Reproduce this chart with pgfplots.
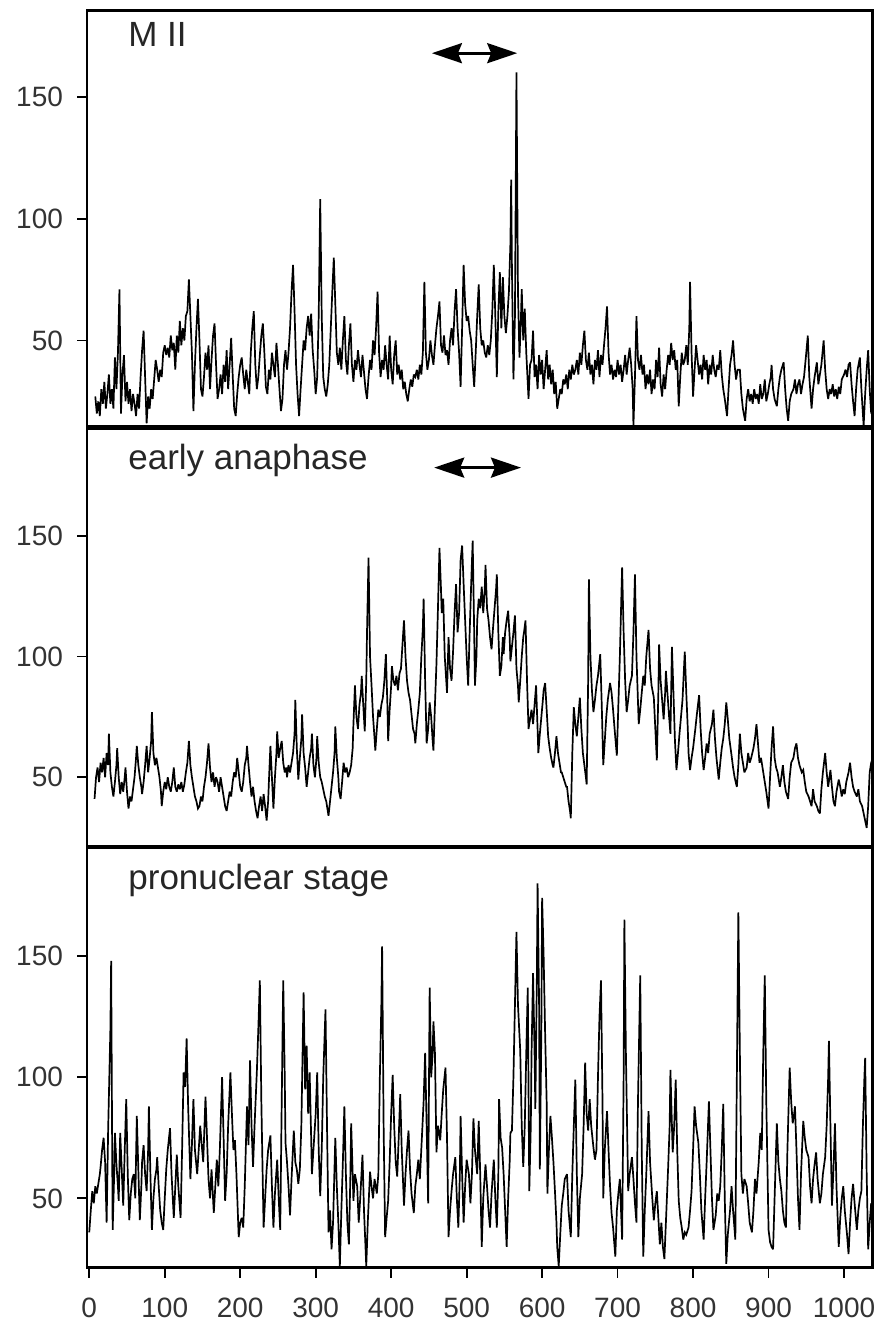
\documentclass[border=0pt]{standalone}
\usepackage{fontspec}
\setmainfont{Liberation Sans}
\usepackage{pgfplots}
\pgfplotsset{compat=1.18}
\usetikzlibrary{arrows.meta}
\pgfplotsset{
 panel/.style={width=392.85pt, scale only axis, xmin=-3, xmax=1038,
  ytick={50,100,150}, tick align=outside, ytick pos=left, xtick pos=bottom,
  axis line style={line width=1.4pt},
  major tick style={line width=0.9pt, black}, major tick length=5pt,
  tick label style={font=\fontsize{14}{14}\selectfont, text=black!80},
  yticklabel style={xshift=-3.5pt},
  xticklabel style={yshift=-6.5pt},
  /pgf/number format/assume math mode=true, /pgf/number format/1000 sep={}},
 dataline/.style={black, line width=0.85pt, mark=none, line join=miter, miter limit=3}
}
\tikzset{
 plabel/.style={anchor=base west, inner sep=0pt, font=\fontsize{17.5}{17.5}\selectfont, text=black!85},
 darr/.style={line width=1.5pt, {Stealth[length=15pt,width=10pt,inset=2pt]}-{Stealth[length=15pt,width=10pt,inset=2pt]}}
}
\begin{document}
\begin{tikzpicture}
\useasboundingbox (-43.5pt,-27.65pt) rectangle (396pt,633.85pt);
% ---------- top panel: M II ----------
\begin{axis}[panel, at={(0pt,420.5pt)}, anchor=south west, height=208.2pt, ymin=14.6, ymax=185.5, xtick=\empty]
\addplot[dataline] coordinates {(8,27)(10,20)(12,25)(14,19)(16,30)(18,24)(20,33)(22,22)(24,28)(26,36)(28,24)(30,30)(32,22)(34,43)(36,30)(38,45)(40,71)(42,20)(44,36)(46,44)(48,25)(50,33)(52,24)(54,30)(56,21)(58,28)(60,24)(62,19)(64,28)(66,22)(68,35)(70,46)(72,54)(74,35)(76,16)(78,27)(80,22)(82,30)(84,26)(86,34)(88,42)(90,38)(92,33)(94,38)(96,35)(98,45)(100,48)(102,44)(104,47)(106,43)(108,52)(110,46)(112,49)(114,38)(116,52)(118,45)(120,58)(122,48)(124,55)(126,50)(128,60)(130,62)(132,75)(134,60)(136,45)(138,21)(140,40)(142,55)(144,67)(146,50)(148,30)(150,27)(152,35)(154,45)(156,38)(158,48)(160,30)(162,42)(164,52)(166,57)(168,40)(170,26)(172,30)(174,36)(176,28)(178,40)(180,33)(182,46)(184,30)(186,40)(188,51)(190,36)(192,22)(194,19)(196,28)(198,35)(200,40)(202,43)(204,36)(206,30)(208,38)(210,33)(212,28)(214,45)(216,55)(218,62)(220,40)(222,30)(224,35)(226,44)(228,52)(230,57)(232,45)(234,31)(236,28)(238,38)(240,34)(242,45)(244,40)(246,35)(248,49)(250,40)(252,30)(254,21)(256,26)(258,40)(260,46)(262,38)(264,45)(266,55)(268,70)(270,81)(272,62)(274,40)(276,28)(278,19)(280,30)(282,40)(284,50)(286,46)(288,55)(290,60)(292,52)(294,61)(296,46)(298,38)(300,28)(302,35)(304,60)(306,108)(308,60)(310,35)(312,30)(314,27)(316,32)(318,40)(320,55)(322,70)(324,84)(326,65)(328,45)(330,40)(332,47)(334,38)(336,50)(338,60)(340,42)(342,36)(344,48)(346,57)(348,40)(350,33)(352,42)(354,38)(356,46)(358,40)(360,35)(362,44)(364,37)(366,30)(368,26)(370,35)(372,42)(374,38)(376,50)(378,44)(380,55)(382,70)(384,45)(386,35)(388,42)(390,38)(392,48)(394,40)(396,34)(398,52)(400,38)(402,32)(404,44)(406,50)(408,36)(410,40)(412,34)(414,38)(416,30)(418,33)(420,28)(422,25)(424,30)(426,34)(428,31)(430,36)(432,35)(434,38)(436,34)(438,40)(440,36)(442,45)(444,74)(446,45)(448,38)(450,42)(452,50)(454,44)(456,40)(458,48)(460,55)(462,60)(464,66)(466,48)(468,45)(470,52)(472,44)(474,46)(476,40)(478,50)(480,55)(482,48)(484,62)(486,71)(488,55)(490,45)(492,31)(494,55)(496,81)(498,65)(500,58)(502,60)(504,54)(506,50)(508,40)(510,31)(512,45)(514,60)(516,73)(518,55)(520,48)(522,50)(524,45)(526,43)(528,48)(530,44)(532,50)(534,62)(536,81)(538,60)(540,35)(542,62)(544,78)(546,55)(548,76)(550,60)(552,53)(554,60)(556,70)(558,90)(559,116)(560,80)(562,34)(564,60)(566,160)(568,70)(570,43)(572,60)(573,71)(575,50)(577,63)(579,45)(582,26)(584,40)(586,42)(588,54)(590,35)(592,40)(594,30)(596,44)(598,36)(600,42)(602,30)(604,38)(606,46)(608,34)(610,40)(612,32)(614,38)(616,28)(618,33)(620,22)(622,26)(624,30)(626,28)(628,34)(630,32)(632,36)(634,30)(636,38)(638,34)(640,40)(642,36)(644,38)(646,42)(648,36)(650,45)(652,40)(654,48)(656,54)(658,42)(660,38)(662,45)(664,36)(666,40)(668,32)(670,42)(672,38)(674,46)(676,35)(678,44)(680,40)(682,48)(684,55)(686,64)(688,45)(690,36)(692,40)(694,34)(696,38)(698,35)(700,42)(702,36)(704,40)(706,33)(708,38)(710,44)(712,36)(714,42)(716,47)(718,40)(720,30)(721,15)(723,35)(725,60)(727,42)(729,38)(731,44)(733,36)(735,40)(737,30)(739,36)(741,32)(743,38)(745,28)(747,34)(749,30)(751,42)(753,35)(755,47)(757,32)(759,27)(761,36)(763,30)(765,38)(767,44)(769,40)(771,49)(773,42)(775,46)(777,38)(779,42)(781,23)(783,35)(785,45)(787,40)(789,42)(791,48)(793,40)(795,55)(796,74)(798,45)(800,27)(802,38)(804,48)(806,42)(808,36)(810,40)(812,34)(814,44)(816,38)(818,42)(820,32)(822,40)(824,36)(826,44)(828,38)(830,35)(832,40)(834,38)(836,46)(838,36)(840,30)(842,26)(845,19)(847,30)(849,40)(851,44)(853,50)(855,40)(857,34)(859,38)(862,38)(864,28)(866,22)(869,17)(871,26)(873,30)(875,25)(877,28)(879,24)(881,30)(883,26)(885,28)(887,24)(889,32)(891,26)(893,28)(895,34)(897,25)(899,28)(901,32)(903,35)(904,40)(906,30)(908,26)(911,23)(913,30)(915,35)(917,38)(920,41)(922,30)(924,22)(926,17)(928,25)(930,28)(933,30)(935,34)(937,28)(939,32)(941,34)(943,28)(945,32)(947,35)(950,45)(952,52)(954,35)(957,22)(959,30)(961,35)(964,41)(966,32)(968,36)(970,40)(973,50)(975,38)(977,30)(979,26)(981,30)(983,28)(985,32)(987,27)(989,30)(991,26)(993,31)(995,28)(997,34)(1000,36)(1002,38)(1004,35)(1006,40)(1008,41)(1010,32)(1012,25)(1014,19)(1016,30)(1018,38)(1021,43)(1023,30)(1026,15)(1028,28)(1030,38)(1032,46)(1034,30)(1036,20)(1038,26)};
\node[plabel] at ([xshift=20.5pt,yshift=-18.2pt]rel axis cs:0,1) {M II};
\draw[darr] (axis cs:454,167.9) -- (axis cs:567,167.9);
\end{axis}
% ---------- middle panel: early anaphase ----------
\begin{axis}[panel, at={(0pt,210.5pt)}, anchor=south west, height=209.2pt, ymin=21.2, ymax=194.6, xtick=\empty]
\addplot[dataline] coordinates {(7,41)(9,50)(11,54)(13,48)(15,56)(17,52)(19,58)(21,50)(23,60)(25,55)(26,68)(28,52)(30,46)(32,42)(34,48)(36,55)(37,62)(39,50)(41,43)(43,48)(45,44)(47,50)(48,54)(50,44)(52,37)(54,42)(56,40)(58,45)(60,50)(62,58)(63,63)(65,55)(67,50)(69,46)(70,43)(72,48)(74,55)(76,63)(78,52)(80,58)(82,65)(83,77)(85,60)(87,55)(89,58)(91,54)(93,50)(95,44)(96,38)(98,44)(100,48)(102,45)(104,50)(106,46)(108,44)(110,48)(112,54)(114,46)(116,44)(118,47)(120,45)(122,48)(124,44)(126,47)(128,52)(130,56)(132,65)(134,55)(136,50)(138,46)(140,42)(142,40)(144,37)(146,38)(148,42)(150,40)(152,46)(154,50)(156,56)(158,64)(160,54)(162,48)(164,52)(166,46)(168,50)(170,48)(172,44)(174,50)(176,46)(178,42)(180,38)(182,36)(184,40)(186,44)(188,42)(190,48)(192,52)(194,50)(196,58)(198,52)(200,46)(202,44)(204,48)(206,55)(208,58)(209,63)(211,55)(213,48)(215,42)(217,46)(219,40)(221,36)(223,33)(225,38)(227,42)(229,36)(231,43)(233,38)(235,32)(237,40)(238,48)(240,63)(242,50)(244,37)(246,50)(248,60)(249,69)(251,58)(253,62)(255,65)(257,56)(259,52)(261,54)(262,50)(264,55)(266,52)(268,56)(270,60)(272,68)(273,82)(275,62)(277,49)(279,58)(281,66)(282,76)(284,60)(286,54)(288,46)(290,52)(292,58)(294,62)(295,68)(297,55)(299,50)(301,58)(302,67)(304,56)(306,50)(308,48)(310,45)(312,42)(314,40)(316,36)(317,34)(319,40)(321,46)(323,52)(325,60)(326,71)(328,58)(330,50)(331,44)(333,41)(335,48)(337,56)(339,52)(341,54)(343,50)(345,52)(347,55)(349,62)(350,72)(352,88)(354,75)(356,70)(358,80)(360,85)(361,92)(363,80)(365,69)(367,90)(368,110)(370,141)(372,100)(374,88)(376,75)(378,66)(379,61)(381,70)(383,78)(385,75)(387,80)(389,83)(391,90)(393,101)(395,80)(396,65)(398,78)(400,88)(401,96)(403,90)(405,88)(407,92)(409,86)(411,93)(413,95)(415,105)(417,115)(419,100)(421,90)(423,85)(425,82)(427,76)(429,70)(431,68)(432,64)(434,72)(436,78)(438,85)(440,100)(442,112)(443,124)(445,90)(447,64)(449,70)(451,81)(453,75)(455,65)(456,61)(458,80)(460,97)(462,120)(464,145)(466,128)(467,118)(469,124)(471,100)(473,90)(474,85)(476,108)(478,95)(480,90)(482,102)(484,118)(486,130)(488,110)(490,118)(492,140)(494,146)(496,130)(498,115)(500,100)(502,88)(504,110)(506,130)(508,148)(510,110)(511,88)(513,100)(514,115)(516,124)(518,120)(520,129)(522,118)(524,128)(525,138)(527,120)(529,115)(531,108)(533,103)(535,112)(537,120)(539,128)(540,134)(542,110)(544,92)(546,96)(548,108)(549,101)(551,110)(553,115)(555,119)(557,108)(558,98)(560,104)(562,110)(564,117)(566,95)(568,88)(569,81)(571,90)(573,100)(575,108)(576,110)(578,115)(580,90)(582,70)(584,74)(586,78)(588,72)(590,80)(592,88)(594,70)(595,60)(597,68)(599,75)(601,82)(602,86)(604,89)(606,78)(608,67)(610,62)(612,58)(614,55)(615,54)(617,60)(619,67)(621,60)(623,56)(625,52)(626,52)(628,50)(630,48)(632,46)(633,46)(635,40)(637,36)(638,33)(640,60)(642,79)(644,72)(646,67)(648,75)(650,83)(652,70)(654,60)(656,55)(658,50)(659,47)(661,90)(662,132)(664,100)(666,86)(668,77)(670,82)(672,88)(674,92)(677,101)(679,80)(681,55)(683,65)(685,75)(687,82)(690,89)(692,85)(694,78)(696,70)(699,59)(701,80)(703,100)(705,125)(706,137)(708,110)(710,90)(712,77)(714,82)(716,88)(719,92)(721,110)(723,134)(725,100)(728,72)(730,78)(732,85)(734,92)(736,88)(738,100)(741,111)(743,95)(745,88)(748,83)(750,70)(752,57)(754,85)(755,105)(757,90)(759,82)(761,74)(763,85)(764,94)(766,85)(768,76)(770,68)(772,104)(774,85)(776,65)(778,53)(780,60)(782,68)(784,75)(786,82)(789,102)(791,85)(793,70)(794,60)(796,53)(798,58)(800,62)(803,70)(805,76)(808,84)(810,70)(812,60)(814,53)(816,58)(818,64)(820,60)(822,68)(825,72)(827,78)(829,66)(831,58)(834,49)(836,56)(838,62)(840,66)(842,72)(844,81)(846,74)(848,66)(851,59)(853,54)(855,50)(858,46)(860,55)(862,68)(864,60)(866,56)(868,52)(871,54)(873,60)(875,56)(877,58)(880,62)(882,66)(884,72)(886,64)(888,56)(890,58)(893,52)(895,48)(897,44)(900,37)(902,50)(904,62)(906,71)(908,58)(910,54)(912,52)(915,46)(917,50)(919,55)(921,48)(923,44)(926,41)(928,50)(930,56)(933,58)(935,62)(937,64)(939,58)(941,55)(944,52)(946,53)(948,48)(950,44)(953,42)(955,40)(957,38)(959,45)(961,40)(964,38)(966,36)(968,35)(970,45)(972,52)(975,60)(977,52)(979,46)(982,53)(984,46)(986,40)(988,38)(990,44)(993,49)(995,46)(997,42)(999,45)(1001,43)(1003,48)(1006,52)(1008,56)(1010,50)(1012,46)(1014,44)(1017,42)(1019,45)(1021,40)(1024,38)(1026,35)(1028,32)(1030,29)(1032,38)(1034,52)(1036,56)(1038,58)};
\node[plabel] at ([xshift=20.5pt,yshift=-20.5pt]rel axis cs:0,1) {early anaphase};
\draw[darr] (axis cs:457,178.3) -- (axis cs:572,178.3);
\end{axis}
% ---------- bottom panel: pronuclear stage ----------
\begin{axis}[panel, at={(0pt,0pt)}, anchor=south west, height=210.2pt, ymin=21.4, ymax=194.9, xtick={0,100,...,1000}]
\addplot[dataline] coordinates {(0,36)(2,45)(4,53)(6,48)(8,55)(10,52)(12,56)(14,60)(15,63)(17,70)(19,75)(21,65)(23,40)(25,78)(26,92)(28,120)(29,148)(30,90)(31,37)(33,60)(34,77)(36,64)(38,55)(39,49)(41,77)(43,62)(45,47)(47,70)(49,91)(51,60)(53,41)(55,52)(57,58)(59,60)(61,50)(63,84)(65,62)(67,41)(69,55)(70,65)(72,72)(74,60)(76,53)(78,70)(79,88)(81,60)(83,37)(85,50)(87,58)(89,62)(90,67)(92,55)(94,45)(96,40)(98,37)(100,50)(102,62)(104,70)(107,79)(109,60)(112,42)(114,55)(116,68)(118,55)(121,42)(123,70)(125,102)(127,96)(129,116)(131,88)(134,58)(136,72)(138,91)(140,70)(143,60)(145,70)(147,80)(149,72)(151,65)(154,92)(156,75)(158,58)(160,50)(162,62)(165,44)(167,55)(169,66)(171,55)(173,70)(176,100)(178,75)(180,49)(182,60)(184,80)(187,102)(189,85)(191,70)(193,74)(195,60)(198,34)(200,40)(202,42)(204,38)(206,55)(209,88)(211,72)(213,107)(215,80)(217,63)(219,80)(222,102)(224,120)(226,140)(228,90)(230,55)(231,38)(233,50)(235,62)(237,70)(240,76)(242,55)(244,38)(246,52)(249,66)(251,50)(253,37)(255,90)(257,140)(259,100)(260,73)(262,65)(264,55)(266,43)(268,58)(271,78)(273,65)(275,62)(277,56)(279,62)(281,80)(284,135)(286,95)(288,113)(290,85)(292,102)(294,75)(295,60)(297,70)(300,85)(302,102)(304,70)(306,51)(308,70)(310,100)(313,128)(315,80)(317,36)(319,45)(321,29)(323,40)(326,75)(328,55)(330,40)(332,22)(334,45)(336,65)(338,88)(340,60)(342,40)(344,31)(346,60)(347,81)(349,60)(350,49)(352,60)(355,55)(357,40)(359,50)(362,68)(364,45)(366,30)(367,22)(369,40)(372,61)(374,55)(376,50)(378,58)(381,52)(383,60)(385,100)(387,130)(388,154)(390,80)(392,34)(394,42)(396,49)(398,65)(400,85)(402,101)(404,80)(406,65)(408,59)(410,75)(412,93)(414,70)(416,55)(417,47)(419,60)(421,70)(423,78)(425,62)(427,52)(430,44)(432,55)(434,60)(436,66)(438,58)(441,77)(443,90)(445,110)(447,80)(449,48)(451,137)(453,100)(455,110)(456,123)(458,110)(460,69)(462,80)(465,74)(467,85)(469,95)(472,104)(474,75)(476,34)(478,45)(480,53)(482,60)(485,67)(487,50)(489,38)(491,60)(492,84)(494,60)(496,40)(498,55)(500,66)(503,60)(505,48)(507,60)(509,83)(511,70)(514,60)(516,82)(518,60)(520,30)(522,50)(525,64)(527,55)(529,45)(531,38)(533,52)(536,66)(538,50)(540,38)(542,60)(543,91)(545,75)(547,71)(549,60)(551,45)(553,30)(555,50)(557,65)(558,77)(560,78)(562,100)(564,130)(566,160)(568,130)(571,111)(573,80)(575,63)(577,80)(579,110)(581,137)(583,53)(585,80)(586,110)(588,143)(590,110)(591,87)(593,140)(594,180)(596,130)(597,62)(599,120)(600,174)(602,150)(604,118)(606,90)(607,52)(609,70)(611,84)(613,75)(615,65)(617,53)(619,40)(620,30)(622,22)(624,35)(626,47)(628,52)(630,58)(633,60)(635,45)(638,34)(640,60)(642,80)(644,99)(646,60)(648,34)(650,50)(653,60)(655,80)(657,106)(659,85)(661,78)(663,91)(665,80)(668,71)(670,66)(672,70)(674,100)(676,125)(678,140)(680,90)(681,50)(683,70)(686,86)(688,70)(690,55)(692,44)(694,38)(697,26)(699,45)(701,52)(703,58)(706,33)(708,100)(709,165)(711,110)(714,53)(716,60)(719,67)(721,58)(723,48)(725,40)(727,90)(730,142)(732,70)(734,26)(736,45)(738,60)(741,86)(743,65)(746,50)(748,41)(750,48)(752,53)(754,42)(756,31)(758,40)(760,30)(762,25)(764,40)(767,63)(769,80)(770,103)(772,80)(773,69)(775,80)(777,99)(779,70)(781,49)(783,42)(785,38)(787,33)(789,36)(791,35)(794,38)(796,45)(798,53)(800,70)(802,88)(804,80)(807,73)(809,60)(811,45)(814,33)(816,50)(818,65)(821,90)(823,70)(825,50)(827,37)(830,43)(832,52)(834,49)(836,55)(838,70)(840,89)(842,50)(844,23)(846,35)(849,45)(851,55)(853,45)(856,33)(858,100)(860,168)(862,110)(864,60)(866,52)(868,58)(871,55)(873,48)(875,40)(878,36)(880,45)(882,58)(884,52)(887,65)(889,77)(891,70)(893,110)(895,142)(897,90)(900,37)(902,32)(904,30)(906,29)(908,50)(911,81)(913,65)(915,58)(917,53)(919,45)(921,40)(923,38)(925,70)(928,104)(930,90)(932,81)(934,85)(935,88)(937,70)(939,50)(941,37)(943,60)(946,82)(948,75)(950,70)(953,67)(955,55)(957,48)(959,58)(961,64)(963,69)(965,58)(968,48)(970,52)(972,60)(975,67)(977,80)(979,100)(980,115)(982,80)(984,47)(986,62)(988,81)(990,55)(993,30)(995,42)(997,50)(999,55)(1001,45)(1004,35)(1006,27)(1008,40)(1010,50)(1012,56)(1014,48)(1017,37)(1019,45)(1021,50)(1023,53)(1025,80)(1027,100)(1028,108)(1030,60)(1032,29)(1034,40)(1036,48)(1038,45)};
\node[plabel] at ([xshift=20.5pt,yshift=-21.3pt]rel axis cs:0,1) {pronuclear stage};
\end{axis}
\end{tikzpicture}
\end{document}
